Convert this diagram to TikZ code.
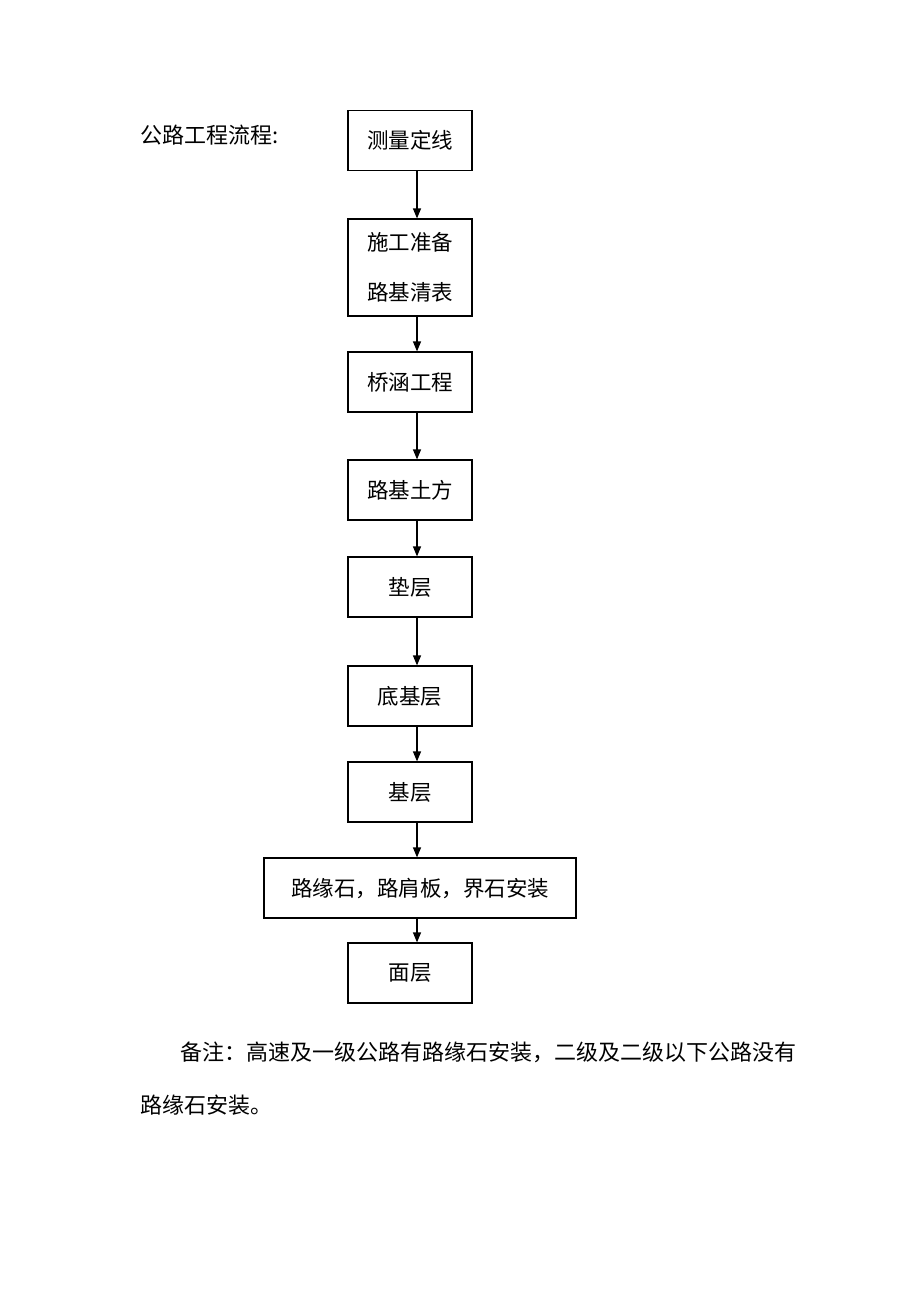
\documentclass[tikz,border=0pt]{standalone}
\usepackage{fontspec}
\setmainfont{Noto Sans CJK SC}
\usetikzlibrary{arrows.meta}
\begin{document}
\begin{tikzpicture}[x=1pt,y=-1pt,
  stepbox/.style={draw,line width=1.2pt,minimum width=124pt,minimum height=60pt,inner sep=0pt,font=\fontsize{21.5}{24}\selectfont},
  flowarrow/.style={line width=1.2pt,-{Triangle[length=10pt,width=8pt]}},
  plaintext/.style={anchor=west,inner sep=0pt,font=\fontsize{22}{24}\selectfont}]
\useasboundingbox (0,0) rectangle (920,1302);
\fill[white] (0,0) rectangle (920,1302);
\coordinate (X) at (417,0);
\node[plaintext] (title) at (140,135) {公路工程流程:};
\node[stepbox] (s1) at (410,140.5) {测量定线};
\node[stepbox,minimum height=97pt,align=center,font=\fontsize{21.5}{50}\selectfont] (s2) at (410,267.5) {施工准备\\路基清表};
\node[stepbox] (s3) at (410,382) {桥涵工程};
\node[stepbox] (s4) at (410,490) {路基土方};
\node[stepbox] (s5) at (410,587) {垫层};
\node[stepbox] (s6) at (410,696) {底基层};
\node[stepbox] (s7) at (410,792) {基层};
\node[stepbox,minimum width=312pt] (s8) at (420,888) {路缘石，路肩板，界石安装};
\node[stepbox] (s9) at (410,973) {面层};
\foreach \a/\b in {s1/s2,s2/s3,s3/s4,s4/s5,s5/s6,s6/s7,s7/s8,s8/s9}
  \draw[flowarrow] (\a.south -| X) -- (\b.north -| X);
\node[plaintext] (note1) at (180,1052) {备注：高速及一级公路有路缘石安装，二级及二级以下公路没有};
\node[plaintext] (note2) at (140,1105) {路缘石安装。};
\end{tikzpicture}
\end{document}
